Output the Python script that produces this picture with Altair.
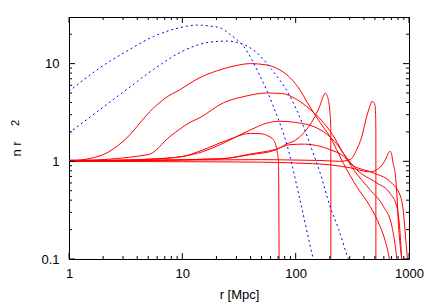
import altair as alt
import pandas as pd

# ---- red solid curves (r [Mpc], n r^2) ----
A_r = [1, 2, 3, 5.55, 7, 9.5, 14.3, 20, 28, 40, 55, 70, 89, 110, 125, 164, 200, 264, 346, 454, 555, 620, 671, 690]
A_y = [1.0, 1.17, 1.6, 3.5, 4.4, 5.4, 7.2, 8.4, 9.4, 10.0, 9.7, 8.8, 7.2, 5.3, 4.1, 2.5, 1.8, 0.95, 0.55, 0.345, 0.216, 0.15, 0.1, 0.08]

B_r = [1, 5, 7.8, 11.7, 14.3, 23, 35, 55, 75, 102, 134, 170, 210, 264, 330, 454, 595, 707, 760, 780, 790]
B_y = [1.0, 1.17, 1.8, 2.5, 2.8, 3.97, 4.6, 5.0, 4.95, 4.3, 3.4, 2.6, 1.9, 1.2, 0.8, 0.51, 0.345, 0.216, 0.13, 0.1, 0.08]

C_r = [1, 5, 10, 15, 21.5, 40, 55, 73, 100, 164, 220, 280, 346, 520, 681, 780, 830, 863, 880]
C_y = [1.0, 1.05, 1.12, 1.25, 1.48, 2.1, 2.45, 2.57, 2.5, 2.11, 1.6, 1.1, 0.82, 0.6, 0.47, 0.345, 0.2, 0.1, 0.08]

D_r = [1, 5, 10, 15, 25, 40, 48.5, 58, 63.5, 67, 69, 70.5, 71.6]
D_y = [1.0, 1.05, 1.12, 1.3, 1.65, 1.93, 1.92, 1.8, 1.67, 1.45, 1.22, 1.0, 0.05]

E_r = [1, 21.5, 40, 65.7, 83, 100, 110, 125, 143, 163, 175, 182, 188, 194, 201, 204, 204.5]
E_y = [1.0, 1.06, 1.17, 1.3, 1.5, 1.65, 1.8, 2.12, 2.68, 3.66, 4.6, 5.0, 4.8, 4.3, 3.1, 2.3, 0.05]

H_r = [1, 21.5, 42, 65.7, 89, 120, 153, 200, 282, 302, 485, 681, 840, 893, 940, 968, 980]
H_y = [1.0, 1.06, 1.2, 1.32, 1.48, 1.5, 1.45, 1.32, 1.05, 0.95, 0.76, 0.62, 0.44, 0.3, 0.15, 0.1, 0.08]

F_r = [1, 10, 50, 100, 164, 245, 302, 346, 384, 424, 450, 470, 490, 500, 506, 510, 510.5]
F_y = [1.03, 1.03, 1.04, 1.03, 1.02, 1.0, 1.04, 1.32, 1.8, 2.9, 3.6, 4.1, 4.0, 3.8, 3.2, 2.1, 0.05]

G_r = [1, 10, 50, 100, 200, 300, 454, 520, 580, 630, 660, 681, 700, 725, 754, 781, 808, 840, 860, 870]
G_y = [1.0, 0.99, 0.98, 0.96, 0.92, 0.86, 0.78, 0.82, 0.92, 1.08, 1.22, 1.27, 1.2, 0.95, 0.76, 0.47, 0.22, 0.13, 0.1, 0.08]

# ---- blue dashed curves ----
U1_r = [1, 1.88, 3.23, 5.55, 9.5, 13.4, 17.6, 21.5, 27, 34.6, 48.5, 63.5, 86, 109, 143, 150]
U1_y = [5.19, 9.08, 13.4, 18.9, 23.3, 24.8, 24.2, 23.3, 19.5, 15.1, 7.45, 3.66, 1.32, 0.405, 0.1, 0.08]

U2_r = [1, 1.88, 3.23, 5.55, 10.9, 17.5, 25, 31.2, 45, 61.5, 89, 117, 139, 165, 201, 240, 292, 310]
U2_y = [1.95, 3.39, 5.44, 8.7, 14.0, 16.6, 17.0, 16.4, 13.0, 8.7, 4.64, 2.29, 1.32, 0.75, 0.345, 0.2, 0.1, 0.085]

# ---- axis ticks and texts ----
x_major = [1, 10, 100, 1000]
x_minor = [m * d for d in (1, 10, 100) for m in range(2, 10)]
y_major = [0.1, 1, 10]
y_minor = [m * d for d in (0.1, 1) for m in range(2, 10)] + [20]
x_title = "r [Mpc]"
y_title_main = "n r"
y_title_sup = "2"

W, H = 340, 242
FONT = "Liberation Sans"

def frame(name, rs, ys):
    return pd.DataFrame({"series": name, "r": rs, "y": ys})

red = pd.concat([frame("A", A_r, A_y), frame("B", B_r, B_y), frame("C", C_r, C_y),
                 frame("D", D_r, D_y), frame("E", E_r, E_y), frame("H", H_r, H_y),
                 frame("F", F_r, F_y), frame("G", G_r, G_y)], ignore_index=True)
blue = pd.concat([frame("U1", U1_r, U1_y), frame("U2", U2_r, U2_y)], ignore_index=True)

xs = alt.Scale(type="log", domain=[1, 1000], nice=False)
ys = alt.Scale(type="log", domain=[0.1, 30], nice=False)

x_axis = alt.Axis(values=x_major, format="d", ticks=False, domain=False, grid=False,
                  labelPadding=8, labelFlush=False, labelOverlap=False, labelFontSize=13,
                  labelFont=FONT, labelColor="black", titleFont=FONT,
                  titleFontSize=13, titleFontWeight="normal", titleColor="black",
                  titleX=170, titleY=39, titleBaseline="alphabetic", titleAlign="center")
y_axis = alt.Axis(values=y_major, format="~g", ticks=False, domain=False, grid=False,
                  labelPadding=10, labelFlush=False, labelOverlap=False, labelFontSize=13,
                  labelFont=FONT, labelColor="black")

X = alt.X("r:Q", scale=xs, axis=x_axis, title=x_title)
Y = alt.Y("y:Q", scale=ys, axis=y_axis, title="")

red_lines = alt.Chart(red).mark_line(color="#ff0000", strokeWidth=1, clip=True,
                                     interpolate="monotone").encode(
    x=X, y=Y, detail="series:N", order="r:Q")

blue_lines = alt.Chart(blue).mark_line(color="#0000ff", strokeWidth=1, strokeDash=[2, 3],
                                       clip=True, interpolate="monotone").encode(
    x=X, y=Y, detail="series:N", order="r:Q")

def xticks(vals, length):
    df = pd.DataFrame({"r": vals})
    bottom = alt.Chart(df).mark_rule(color="black", strokeWidth=1).encode(
        x=X, y=alt.value(H), y2=alt.value(H - length))
    top = alt.Chart(df).mark_rule(color="black", strokeWidth=1).encode(
        x=X, y=alt.value(0), y2=alt.value(length))
    return [bottom, top]

def yticks(vals, length):
    df = pd.DataFrame({"y": vals})
    left = alt.Chart(df).mark_rule(color="black", strokeWidth=1).encode(
        y=Y, x=alt.value(0), x2=alt.value(length))
    right = alt.Chart(df).mark_rule(color="black", strokeWidth=1).encode(
        y=Y, x=alt.value(W), x2=alt.value(W - length))
    return [left, right]

ytitle = alt.Chart(pd.DataFrame({"t": [y_title_main]})).mark_text(
    font=FONT, fontSize=13, angle=270, align="center", baseline="alphabetic", color="black"
).encode(text="t:N", x=alt.value(-48), y=alt.value(132))
ysup = alt.Chart(pd.DataFrame({"t": [y_title_sup]})).mark_text(
    font=FONT, fontSize=11, angle=270, align="center", baseline="alphabetic", color="black"
).encode(text="t:N", x=alt.value(-50), y=alt.value(106))

layers = [red_lines, blue_lines] + xticks(x_major, 6) + xticks(x_minor, 3) \
         + yticks(y_major, 6) + yticks(y_minor, 3) + [ytitle, ysup]

chart = alt.layer(*layers).properties(
    width=W, height=H,
    padding={"left": 61, "top": 9, "right": 17, "bottom": 44},
    autosize=alt.AutoSizeParams(type="none"),
    background="white",
).configure_view(stroke="black", strokeWidth=1)

chart.save("out.html", embed_options={"renderer": "svg", "actions": False})
